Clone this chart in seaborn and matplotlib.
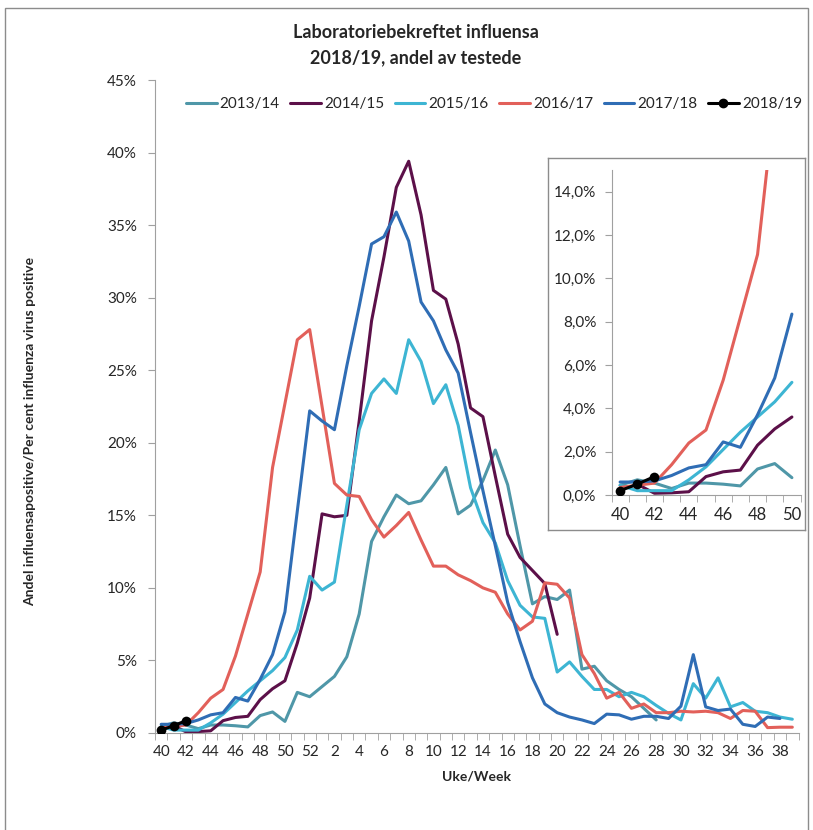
import matplotlib
matplotlib.use('Agg')
import matplotlib.pyplot as plt
import seaborn as sns
import numpy as np
import pandas as pd
from matplotlib.lines import Line2D
from matplotlib.ticker import FuncFormatter, FixedLocator

nan = np.nan

# Uke 40-52, deretter 1-39
weeks = list(range(40, 53)) + list(range(1, 40))

s1314 = [0.45, 0.7, 0.55, 0.3, 0.55, 0.55, 0.5, 0.42, 1.2, 1.45, 0.8, 2.8, 2.5,
         3.2, 3.9, 5.25, 8.2, 13.2, 14.9, 16.4, 15.8, 16.0, 17.1, 18.3, 15.1, 15.7,
         17.4, 19.5, 17.1, 12.9, 8.9, 9.4, 9.2, 9.85, 4.4, 4.6, 3.6, 3.0, 2.5, 1.7,
         0.9] + [nan] * 11
s1415 = [nan, 0.5, 0.08, 0.1, 0.15, 0.85, 1.07, 1.15, 2.3, 3.05, 3.6, 6.2, 9.3,
         15.1, 14.9, 15.0, 21.5, 28.4, 32.8, 37.6, 39.4, 35.7, 30.5, 29.9, 26.8, 22.4,
         21.8, 17.7, 13.7, 12.1, 11.2, 10.3, 6.8] + [nan] * 19
s1516 = [0.45, 0.2, 0.2, 0.2, 0.7, 1.3, 2.1, 2.9, 3.6, 4.3, 5.2, 7.1, 10.8,
         9.85, 10.4, 15.7, 20.9, 23.4, 24.4, 23.4, 27.1, 25.6, 22.7, 24.0, 21.2, 16.9,
         14.5, 13.1, 10.5, 8.8, 8.0, 7.9, 4.2, 4.9, 3.9, 3.0, 3.0, 2.5, 2.8, 2.5,
         1.9, 1.35, 0.9, 3.4, 2.4, 3.8, 1.8, 2.1, 1.5, 1.4, 1.1, 0.95]
s1617 = [0.35, 0.45, 0.55, 1.4, 2.4, 3.0, 5.3, 8.2, 11.1, 18.3, 22.7, 27.1, 27.8,
         22.5, 17.2, 16.4, 16.3, 14.7, 13.5, 14.3, 15.2, 13.3, 11.5, 11.5, 10.9, 10.5,
         10.0, 9.7, 8.2, 7.1, 7.7, 10.35, 10.25, 9.3, 5.4, 4.1, 2.4, 2.8, 1.7, 2.0,
         1.4, 1.4, 1.5, 1.45, 1.5, 1.4, 1.0, 1.55, 1.5, 0.37, 0.4, 0.4]
s1718 = [0.6, 0.6, 0.65, 0.9, 1.25, 1.4, 2.45, 2.2, 3.7, 5.4, 8.35, 15.3, 22.2,
         21.5, 20.9, 25.3, 29.4, 33.7, 34.2, 35.9, 33.9, 29.7, 28.4, 26.4, 24.8, 20.7,
         16.7, 12.9, 9.0, 6.3, 3.8, 2.0, 1.4, 1.1, 0.9, 0.65, 1.3, 1.25, 0.95, 1.15,
         1.15, 1.0, 1.85, 5.4, 1.8, 1.55, 1.65, 0.6, 0.45, 1.1, 1.0, nan]
s1819 = [0.2, 0.5, 0.85] + [nan] * 49

seasons = ['2013/14', '2014/15', '2015/16', '2016/17', '2017/18', '2018/19']
colors = ['#4F97A8', '#5C1049', '#3DB5D3', '#E2605A', '#2F6DB5', '#000000']

df = pd.DataFrame({'pos': range(len(weeks)), 'week': weeks,
                   '2013/14': s1314, '2014/15': s1415, '2015/16': s1516,
                   '2016/17': s1617, '2017/18': s1718, '2018/19': s1819})
df_long = df.melt(id_vars=['pos', 'week'], var_name='season', value_name='andel')

sns.set_style('white')
plt.rcParams['font.family'] = ['Lato', 'DejaVu Sans']

grey = '#A0A0A0'
W, H = 813, 830
fig = plt.figure(figsize=(W / 100, H / 100), dpi=100)

# ramme rundt hele figuren
fig.patches.append(plt.Rectangle((5 / W, -0.05), 803 / W, 1.05 - 8 / H, transform=fig.transFigure,
                                 fill=False, edgecolor='#8C8C8C', lw=1.0))


def tegn_linjer(ax, maks_pos):
    for s, c in zip(seasons, colors):
        d = df_long[(df_long.season == s) & (df_long.pos <= maks_pos)].dropna()
        if s == '2018/19':
            sns.lineplot(data=d, x='pos', y='andel', color=c, lw=2.2, marker='o',
                         markersize=7, markeredgewidth=0, ax=ax, legend=False, zorder=5)
        else:
            sns.lineplot(data=d, x='pos', y='andel', color=c, lw=2.2, ax=ax, legend=False)


# hovedgraf
ax = fig.add_axes([155 / W, 1 - 733 / H, 643.5 / W, 653 / H])
tegn_linjer(ax, 51)
ax.set_xlim(-0.5, 51.5)
ax.set_ylim(0, 45)
ax.set_yticks(range(0, 46, 5))
ax.yaxis.set_major_formatter(FuncFormatter(lambda v, p: f'{int(v)}%'))
ax.set_xticks(range(0, 52, 2))
ax.set_xticklabels([str(w) for w in weeks[::2]])
ax.xaxis.set_minor_locator(FixedLocator(np.arange(-0.5, 52, 1)))
ax.tick_params(axis='x', which='major', length=0, pad=9, labelsize=11)
ax.tick_params(axis='x', which='minor', length=5, color=grey, direction='out')
ax.tick_params(axis='y', length=5, color=grey, direction='out', labelsize=11, pad=8)
ax.tick_params(bottom=True, which='minor')
ax.tick_params(left=True)
for side in ['top', 'right']:
    ax.spines[side].set_visible(False)
for side in ['left', 'bottom']:
    ax.spines[side].set_color(grey)
ax.set_xlabel('Uke/Week', fontsize=10, fontweight='bold', labelpad=8)
ax.set_ylabel('')
fig.text(30 / W, 1 - 431 / H, 'Andel influensapositive/Per cent influenza virus positive',
         rotation=90, ha='center', va='center', fontsize=10, fontweight='bold')

fig.text(416 / W, 1 - 45 / H, 'Laboratoriebekreftet influensa\n2018/19, andel av testede',
         ha='center', va='center', fontsize=13, fontweight='bold', linespacing=1.6)

# tegnforklaring
handles = [Line2D([], [], color=c, lw=2.2, marker='o' if s == '2018/19' else None,
                  markersize=6) for s, c in zip(seasons, colors)]
fig.legend(handles, seasons, loc='center', bbox_to_anchor=(494 / W, 1 - 104 / H), ncol=6,
           frameon=False, fontsize=11, handlelength=2.0, handletextpad=0.2,
           columnspacing=0.7, borderpad=0, borderaxespad=0)

# innfelt graf
boks = fig.add_axes([548 / W, 1 - 530 / H, 257 / W, 372 / H])
boks.set_xticks([])
boks.set_yticks([])
boks.set_facecolor('white')
for sp in boks.spines.values():
    sp.set_color('#8C8C8C')
    sp.set_linewidth(1.0)

ins = fig.add_axes([611.5 / W, 1 - 495 / H, 189 / W, 325 / H])
ins.set_facecolor('none')
tegn_linjer(ins, 10)
ins.set_xlim(-0.5, 10.5)
ins.set_ylim(0, 15)
ins.set_yticks(range(0, 15, 2))
ins.yaxis.set_major_formatter(FuncFormatter(lambda v, p: f'{v:.1f}%'.replace('.', ',')))
ins.set_xticks(range(0, 11, 2))
ins.set_xticklabels([str(w) for w in weeks[0:11:2]])
ins.xaxis.set_minor_locator(FixedLocator(np.arange(-0.5, 11, 1)))
ins.tick_params(axis='x', which='major', length=0, pad=9, labelsize=12)
ins.tick_params(axis='x', which='minor', length=5, color=grey, direction='out')
ins.tick_params(axis='y', length=5, color=grey, direction='out', labelsize=11, pad=6)
ins.tick_params(bottom=True, which='minor')
ins.tick_params(left=True)
for side in ['top', 'right']:
    ins.spines[side].set_visible(False)
for side in ['left', 'bottom']:
    ins.spines[side].set_color(grey)
ins.set_xlabel('')
ins.set_ylabel('')

fig.savefig('out.png', dpi=100)
